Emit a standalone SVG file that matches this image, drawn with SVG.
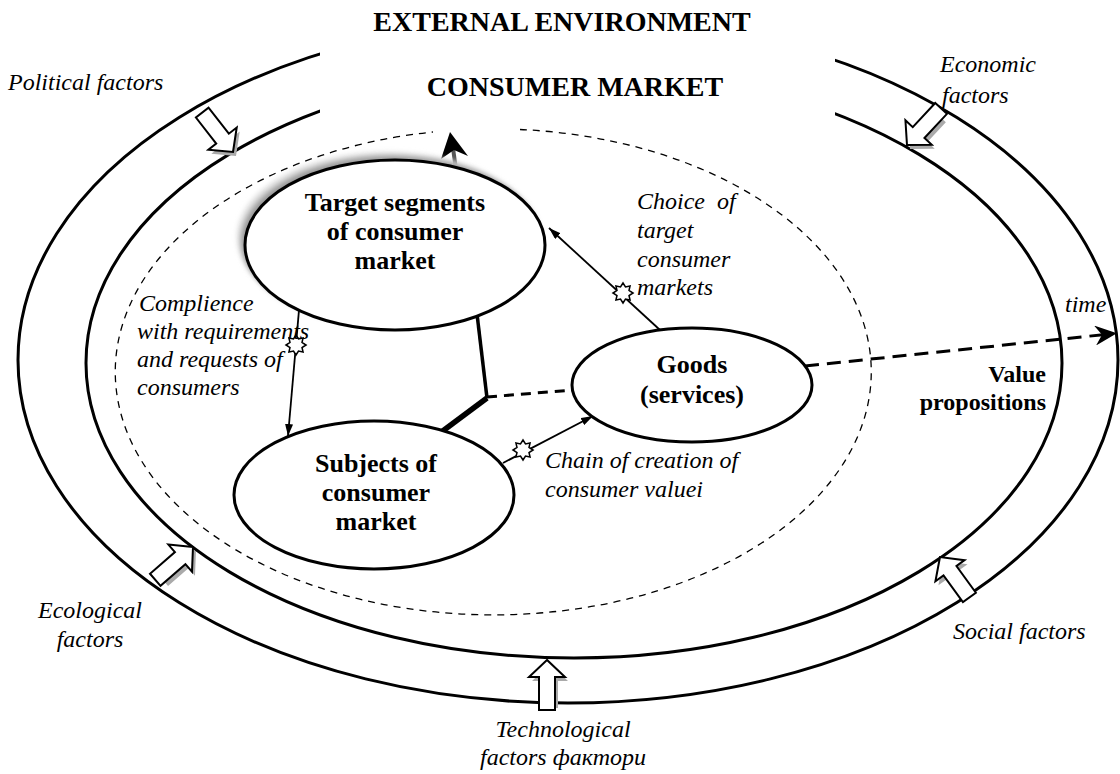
<svg xmlns="http://www.w3.org/2000/svg" width="1120" height="774" viewBox="0 0 1120 774">
  <style>
    .ring { fill: none; stroke: #000; stroke-width: 3; }
    .dash { fill: none; stroke: #000; stroke-width: 1.3; stroke-dasharray: 7 6; }
    .node { fill: #fff; stroke: #000; stroke-width: 3; }
    .ntext { font-family: "Liberation Serif", "Times New Roman", serif; font-weight: bold; font-size: 26px; text-anchor: middle; fill: #000; }
    .title { font-family: "Liberation Serif", "Times New Roman", serif; font-weight: bold; font-size: 28px; text-anchor: middle; fill: #000; }
    .lbl { font-family: "Liberation Serif", "Times New Roman", serif; font-style: italic; font-size: 24px; fill: #000; }
    .blbl { font-family: "Liberation Serif", "Times New Roman", serif; font-weight: bold; font-size: 24px; fill: #000; text-anchor: end; }
    .thin { fill: none; stroke: #000; stroke-width: 1.8; }
    .barrow { fill: #fff; stroke: #000; stroke-width: 2; stroke-linejoin: miter; }
    .bshadow { fill: #aaa; stroke: none; }
    .star { fill: #fff; stroke: #000; stroke-width: 1.5; }
  </style>
  <defs>
    <marker id="tri" viewBox="0 0 12 8" refX="12" refY="4" markerWidth="12" markerHeight="8" markerUnits="userSpaceOnUse" orient="auto">
      <path d="M0,0 L12,4 L0,8 z" fill="#000"/>
    </marker>
    <marker id="barb" viewBox="0 0 22 20" refX="8" refY="10" markerWidth="22" markerHeight="20" markerUnits="userSpaceOnUse" orient="auto">
      <path d="M0,0 L22,10 L0,20 L7,10 z" fill="#000"/>
    </marker>
    <!-- block arrow pointing along +x, tip at the origin -->
    <path id="blk" d="M0,0 L-17,-18 L-17,-8 L-50,-8 L-50,8 L-17,8 L-17,18 z"/>
    <path id="blkS" d="M0,0 L-17,-18 L-17,-8 L-44,-8 L-44,8 L-17,8 L-17,18 z"/>
    <path id="star8" d="M10,0 L6,2.49 L7.07,7.07 L2.49,6 L0,10 L-2.49,6 L-7.07,7.07 L-6,2.49 L-10,0 L-6,-2.49 L-7.07,-7.07 L-2.49,-6 L0,-10 L2.49,-6 L7.07,-7.07 L6,-2.49 z"/>
    <filter id="soft" x="-20%" y="-20%" width="140%" height="140%">
      <feGaussianBlur stdDeviation="2.5"/>
    </filter>
  </defs>

  <rect width="1120" height="774" fill="#fff"/>

  <!-- environment rings -->
  <g id="rings">
    <ellipse class="ring" cx="568" cy="360" rx="550" ry="343"/>
    <ellipse class="ring" cx="574" cy="363" rx="488" ry="295"/>
    <rect x="320" y="0" width="515" height="118" fill="#fff"/>
  </g>

  <!-- consumer market boundary -->
  <path id="market-boundary" class="dash" d="M 520 129.5 A 378 243 0 1 1 433 132"/>

  <!-- titles -->
  <text class="title" x="562" y="31">EXTERNAL ENVIRONMENT</text>
  <text class="title" x="575" y="96">CONSUMER MARKET</text>

  <!-- environmental factor arrows -->
  <g id="factor-political">
    <use href="#blkS" class="bshadow" transform="translate(236,156) rotate(52)"/>
    <use href="#blk" class="barrow" transform="translate(233,152) rotate(52)"/>
    <text class="lbl" x="8" y="90">Political factors</text>
  </g>
  <g id="factor-economic">
    <use href="#blkS" class="bshadow" transform="translate(910,149) rotate(133)"/>
    <use href="#blk" class="barrow" transform="translate(907,145) rotate(133)"/>
    <text class="lbl" x="940" y="72">Economic</text>
    <text class="lbl" x="942" y="103">factors</text>
  </g>
  <g id="factor-ecological">
    <use href="#blkS" class="bshadow" transform="translate(196,551) rotate(-41)"/>
    <use href="#blk" class="barrow" transform="translate(193,547) rotate(-41)"/>
    <text class="lbl" x="90" y="618" text-anchor="middle">Ecological</text>
    <text class="lbl" x="90" y="647" text-anchor="middle">factors</text>
  </g>
  <g id="factor-social">
    <use href="#blkS" class="bshadow" transform="translate(943,561) rotate(-126)"/>
    <use href="#blk" class="barrow" transform="translate(940,557) rotate(-126)"/>
    <text class="lbl" x="953" y="639">Social factors</text>
  </g>
  <g id="factor-technological">
    <use href="#blkS" class="bshadow" transform="translate(550,664) rotate(-90)"/>
    <use href="#blk" class="barrow" transform="translate(547,660) rotate(-90)"/>
    <text class="lbl" x="563" y="737" text-anchor="middle">Technological</text>
    <text class="lbl" x="563" y="765" text-anchor="middle">factors фактори</text>
  </g>

  <!-- connectors -->
  <g id="connectors">
    <polyline points="477,314 487,398" fill="none" stroke="#000" stroke-width="3.5"/>
    <line x1="487" y1="398" x2="440" y2="433" stroke="#000" stroke-width="5.5"/>
    <line x1="487" y1="397" x2="573" y2="390" stroke="#000" stroke-width="3" stroke-dasharray="10 7"/>
    <line x1="805" y1="366" x2="1103" y2="334.7" stroke="#000" stroke-width="3" stroke-dasharray="14 8" marker-end="url(#barb)"/>
    <line class="thin" x1="660" y1="330" x2="549" y2="228" marker-end="url(#tri)"/>
    <line class="thin" x1="299" y1="310" x2="288" y2="436" marker-end="url(#tri)"/>
    <line class="thin" x1="503" y1="463" x2="593" y2="416" marker-end="url(#tri)"/>
    <use href="#star8" class="star" transform="translate(296,345)"/>
    <use href="#star8" class="star" transform="translate(623,293)"/>
    <use href="#star8" class="star" transform="translate(523,450)"/>
    <!-- rising arrow above target segments -->
    <line x1="456" y1="170" x2="453" y2="148" stroke="#555" stroke-width="4"/>
    <polygon points="450,132 468,156 454,150 441,159" fill="#000"/>
  </g>

  <!-- nodes -->
  <g id="node-target">
    <ellipse cx="387" cy="237" rx="150" ry="85" fill="#ddd" filter="url(#soft)"/>
    <ellipse cx="391" cy="241" rx="150" ry="85" fill="#999" filter="url(#soft)"/>
    <ellipse class="node" cx="395" cy="245" rx="150" ry="85"/>
    <text class="ntext" x="395" y="211">Target segments</text>
    <text class="ntext" x="395" y="240">of consumer</text>
    <text class="ntext" x="395" y="269">market</text>
  </g>
  <g id="node-subjects">
    <ellipse class="node" cx="374" cy="495" rx="140" ry="74"/>
    <text class="ntext" x="376" y="472">Subjects of</text>
    <text class="ntext" x="376" y="501">consumer</text>
    <text class="ntext" x="376" y="530">market</text>
  </g>
  <g id="node-goods">
    <ellipse class="node" cx="692" cy="385" rx="120" ry="57"/>
    <text class="ntext" x="692" y="373">Goods</text>
    <text class="ntext" x="692" y="403">(services)</text>
  </g>

  <!-- connector labels -->
  <g id="labels">
    <text class="lbl" x="637" y="209" xml:space="preserve">Choice  of</text>
    <text class="lbl" x="637" y="238">target</text>
    <text class="lbl" x="637" y="267">consumer</text>
    <text class="lbl" x="637" y="295">markets</text>
    <text class="lbl" x="139" y="311">Complience</text>
    <text class="lbl" x="137" y="339">with requirements</text>
    <text class="lbl" x="137" y="367">and requests of</text>
    <text class="lbl" x="137" y="395">consumers</text>
    <text class="lbl" x="545" y="468">Chain of creation of</text>
    <text class="lbl" x="545" y="497">consumer valuei</text>
    <text class="lbl" x="1065" y="312">time</text>
    <text class="blbl" x="1046" y="382">Value</text>
    <text class="blbl" x="1046" y="410">propositions</text>
  </g>
</svg>
